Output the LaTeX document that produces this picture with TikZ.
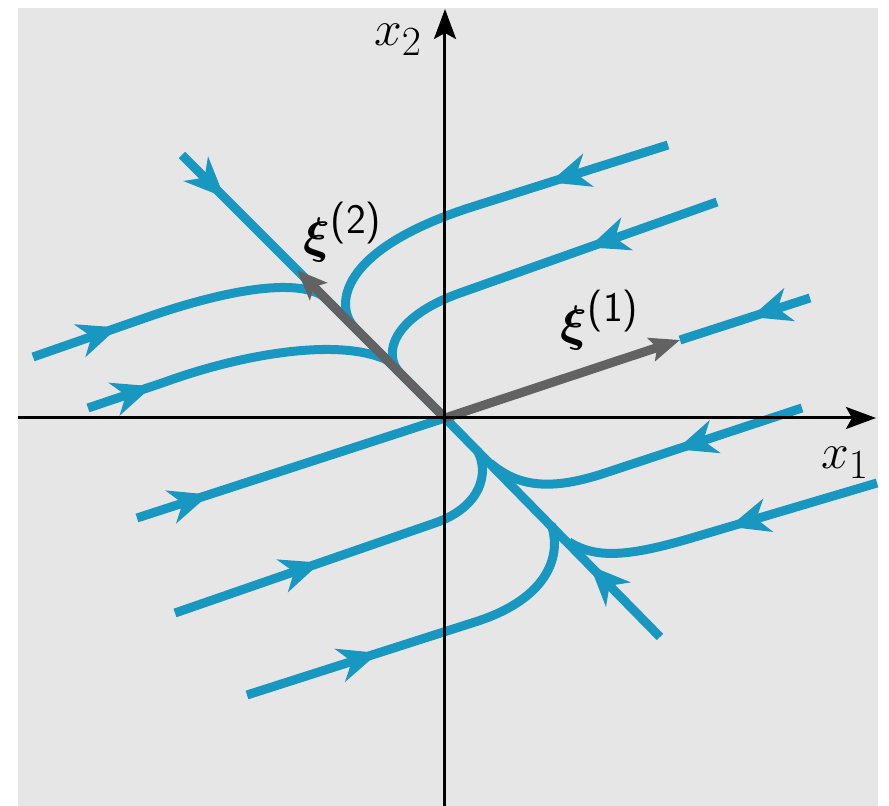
\documentclass[tikz,border=0pt]{standalone}
\usepackage{amsmath}
\usetikzlibrary{arrows.meta}
\usetikzlibrary{decorations.markings}
\definecolor{traj}{RGB}{24,152,192}
\definecolor{vecgray}{RGB}{98,98,98}
\definecolor{bggray}{RGB}{230,230,230}

\begin{document}
\begin{tikzpicture}[x=0.5pt, y=0.5pt,
    axis/.style = {line width=1.5pt, -{Stealth[length=15pt, width=11pt, inset=3pt]}},
    orbit/.style = {traj, line width=4.5pt, postaction={decorate},
        decoration={markings, mark=at position #1 with {\arrow{Stealth[length=20pt, width=17pt, inset=6pt]}}}},
    eigvec/.style = {vecgray, line width=4.5pt, -{Stealth[length=15pt, width=12pt, inset=3pt]}},
    lbl/.style = {font=\fontsize{30}{32}\selectfont, inner sep=0pt}]
    \useasboundingbox (-445,-388) rectangle (444,418);
    \fill[bggray] (-427,-388) rectangle (433,410);

    \coordinate (O) at (0,0);
    \coordinate (xs) at (-427,0);
    \coordinate (xe) at (431,0);
    \coordinate (ys) at (0,-388);
    \coordinate (ye) at (0,409);
    \coordinate (v1) at (235,78);
    \coordinate (v2) at (-148,148);

    % straight line solutions
    \draw[orbit=30pt] (-263,263) -- (O);
    \draw[orbit=50pt] (215,-219) -- (O);
    \draw[orbit=31pt] (365,120) -- (v1);
    \draw[orbit=38pt] (-308,-100) -- (O);

    % other trajectories
    \draw[orbit=62pt] (223,273) -- (30,212) .. controls (-110,168) and (-110,110) .. (-90,90);
    \draw[orbit=68pt] (272,216) -- (15,125) .. controls (-55,100) and (-62,62) .. (-45,45);
    \draw[orbit=45pt] (-412,61) -- (-300,100) .. controls (-220,128) and (-150,140) .. (-122,122);
    \draw[orbit=34pt] (-357,10) -- (-280,36) .. controls (-200,65) and (-105,80) .. (-58,58);
    \draw[orbit=77pt] (-270,-195) -- (-10,-105) .. controls (36,-89) and (45,-55) .. (32,-32);
    \draw[orbit=69pt] (-198,-277) -- (30,-204) .. controls (100,-182) and (118,-140) .. (106,-106);
    \draw[orbit=66pt] (357,10) -- (160,-55) .. controls (100,-75) and (70,-66) .. (45,-45);
    \draw[orbit=77pt] (432,-65) -- (250,-119) .. controls (180,-140) and (150,-140) .. (124,-124);

    \draw[eigvec] (O) -- (v1);
    \draw[eigvec] (O) -- (v2);

    \draw[axis] (xs) -- (xe);
    \draw[axis] (ys) -- (ye);

    \node[lbl] (x1) at (400,-45) {$x_1$};
    \node[lbl] (x2) at (-47,378) {$x_2$};
    \node[lbl] (xi1) at (155,98) {$\boldsymbol{\xi}^{\textsf{(1)}}$};
    \node[lbl] (xi2) at (-102,186) {$\boldsymbol{\xi}^{\textsf{(2)}}$};
\end{tikzpicture}
\end{document}
